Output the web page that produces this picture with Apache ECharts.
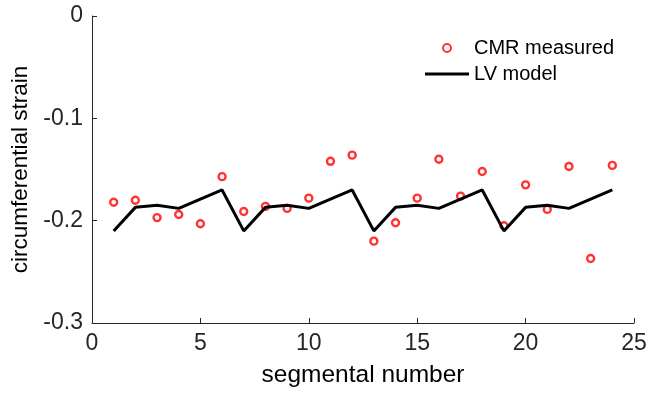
<!DOCTYPE html>
<html>
<head>
<meta charset="utf-8">
<script src="https://cdn.jsdelivr.net/npm/echarts@6/dist/echarts.min.js"></script>
<style>
  html, body { margin: 0; padding: 0; background: #fff; }
  #chart { width: 651px; height: 393px; }
</style>
</head>
<body>
<div id="chart"></div>
<script>
var chart = echarts.init(document.getElementById('chart'));

var segments = [1, 2, 3, 4, 5, 6, 7, 8, 9, 10, 11, 12, 13, 14, 15, 16, 17, 18, 19, 20, 21, 22, 23, 24];
var measured = [-0.182, -0.180, -0.197, -0.194, -0.203, -0.157, -0.191, -0.186, -0.188, -0.178, -0.142, -0.136,
                -0.220, -0.202, -0.178, -0.140, -0.176, -0.152, -0.205, -0.165, -0.189, -0.147, -0.237, -0.146];
var model = [-0.210, -0.187, -0.185, -0.188, -0.179, -0.170, -0.210, -0.187, -0.185, -0.188, -0.179, -0.170,
             -0.210, -0.187, -0.185, -0.188, -0.179, -0.170, -0.210, -0.187, -0.185, -0.188, -0.179, -0.170];

function pairs(xs, ys) {
    return xs.map(function (x, i) { return [x, ys[i]]; });
}

var font = 'Liberation Sans, Arial, sans-serif';
var axisColor = '#262626';

var option = {
    animation: false,
    textStyle: { fontFamily: font },
    grid: { left: 92, right: 17, top: 16, bottom: 70 },
    legend: {
        orient: 'vertical',
        left: 420,
        top: 33,
        itemWidth: 44,
        itemHeight: 8,
        itemGap: 6,
        textStyle: { fontSize: 20, color: '#000', fontFamily: font },
        data: [
            { name: 'CMR measured', icon: 'circle' },
            { name: 'LV model', icon: 'path://M0,0 L44,0 L44,3 L0,3 Z' }
        ]
    },
    xAxis: {
        type: 'value',
        min: 0,
        max: 25,
        interval: 5,
        name: 'segmental number',
        nameLocation: 'middle',
        nameGap: 40,
        nameTextStyle: { fontSize: 24.5, color: '#000' },
        axisLine: { onZero: false, lineStyle: { color: axisColor, width: 1 } },
        axisTick: { inside: true, length: 5, lineStyle: { color: axisColor } },
        axisLabel: { fontSize: 23, color: axisColor, margin: 9 },
        splitLine: { show: false }
    },
    yAxis: {
        type: 'value',
        min: -0.3,
        max: 0,
        interval: 0.1,
        name: 'circumferential strain',
        nameLocation: 'middle',
        nameGap: 58,
        nameTextStyle: { fontSize: 22.5, color: '#000' },
        axisLine: { show: true, onZero: false, lineStyle: { color: axisColor, width: 1 } },
        axisTick: { show: true, inside: true, length: 5, lineStyle: { color: axisColor } },
        axisLabel: { fontSize: 23, color: axisColor, margin: 9 },
        splitLine: { show: false }
    },
    series: [
        {
            name: 'CMR measured',
            type: 'scatter',
            symbol: 'circle',
            symbolSize: 7,
            itemStyle: { color: 'rgba(255,255,255,0)', borderColor: '#ff0000', borderWidth: 2.4 },
            data: pairs(segments, measured),
            z: 2
        },
        {
            name: 'LV model',
            type: 'line',
            showSymbol: false,
            symbol: 'none',
            lineStyle: { color: '#000', width: 3 },
            itemStyle: { color: '#000' },
            data: pairs(segments, model),
            z: 3
        }
    ]
};

chart.setOption(option);
</script>
</body>
</html>
